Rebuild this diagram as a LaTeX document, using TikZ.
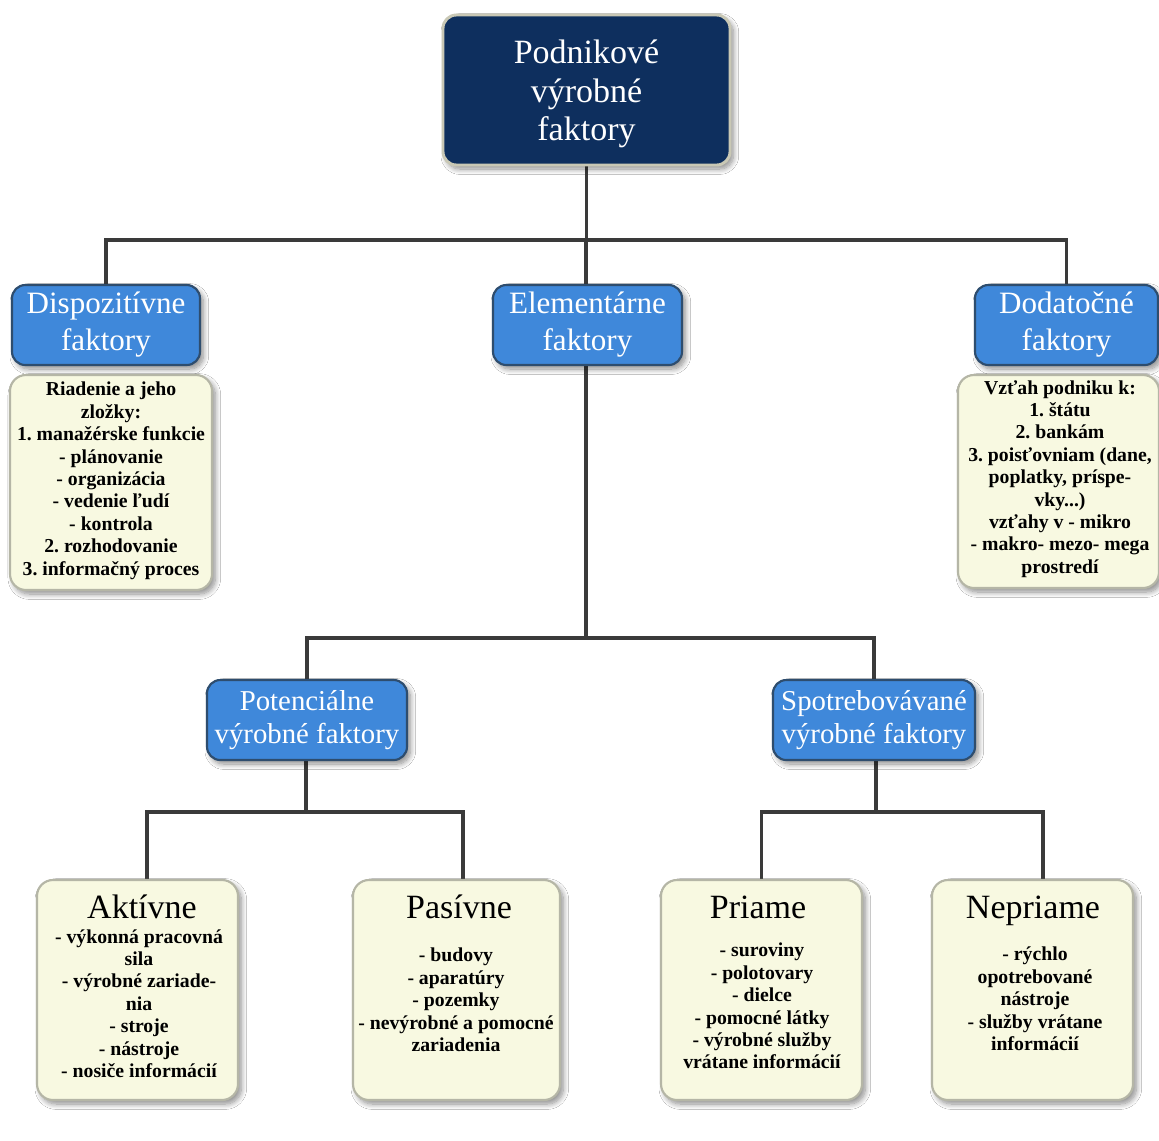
\documentclass[tikz,border=0pt]{standalone}
\usepackage{fontspec}
\setmainfont{Liberation Serif}
\usetikzlibrary{calc,backgrounds,shadows.blur}
\definecolor{navy}{HTML}{0E2F5E}
\definecolor{navyedge}{HTML}{C9C8B5}
\definecolor{bluefill}{HTML}{3F88DA}
\definecolor{blueedge}{HTML}{2E4D6E}
\definecolor{yfill}{HTML}{F8F9E1}
\definecolor{yedge}{HTML}{B5B6A6}
\definecolor{linec}{HTML}{3A3A3A}
\frenchspacing
\tikzset{
  shad/.style={blur shadow={shadow xshift=2.5pt,shadow yshift=-3pt,shadow blur steps=10,shadow blur radius=4pt,shadow opacity=45}},
  titlebox/.style={shad,draw=navyedge,line width=2.2pt,fill=navy,rounded corners=10pt,inner sep=0pt},
  titletext/.style={text=white,align=center,inner sep=0pt,font=\fontsize{25.5pt}{29pt}\selectfont},
  bluebox/.style={shad,draw=blueedge,line width=1.6pt,fill=bluefill,rounded corners=10pt,text=white,align=center,inner sep=0pt,
    minimum height=80*0.75pt},
  bigblue/.style={bluebox,font=\fontsize{23.3pt}{27.7pt}\selectfont},
  smallblue/.style={bluebox,font=\fontsize{21.6pt}{24.8pt}\selectfont},
  ybox/.style={shad,draw=yedge,line width=1.6pt,fill=yfill,rounded corners=12pt,inner sep=0pt},
  body/.style={align=center,inner sep=0pt,anchor=north,font=\fontsize{14.8pt}{16.8pt}\selectfont\bfseries},
  head/.style={inner sep=0pt,anchor=base,font=\fontsize{25.5pt}{29pt}\selectfont},
  conn/.style={draw=linec,line width=2.6pt}
}
\begin{document}
\begin{tikzpicture}[x=0.75pt,y=-0.75pt]
\useasboundingbox (0,0) rectangle (1159,1140);

% level 0
\node[titlebox,minimum width=287*0.75pt,minimum height=150*0.75pt] (top) at (586.5,90) {};
\node[titletext] (toptext) at (586.5,94) {Podnikové\\výrobné\\faktory};

% level 1
\node[bigblue,minimum width=188*0.75pt] (disp) at (106,325) {Dispozitívne\\faktory};
\node[bigblue,minimum width=189*0.75pt] (elem) at (587.5,325) {Elementárne\\faktory};
\node[bigblue,minimum width=183*0.75pt] (dod) at (1066.5,325) {Dodatočné\\faktory};

% yellow text boxes level 1
\node[ybox,minimum width=202*0.75pt,minimum height=215*0.75pt] (dispb) at (111,482.5) {};
\node[body] (dispt) at (111,382) {Riadenie a jeho\\zložky:\\1. manažérske funkcie\\- plánovanie\\- organizácia\\- vedenie ľudí\\- kontrola\\2. rozhodovanie\\3. informačný proces};
\node[ybox,minimum width=201*0.75pt,minimum height=213*0.75pt] (dodb) at (1058.5,481.5) {};
\node[body] (dodt) at (1060,380) {Vzťah podniku k:\\1. štátu\\2. bankám\\3. poisťovniam (dane,\\poplatky, príspe-\\vky...)\\vzťahy v - mikro\\- makro- mezo- mega\\prostredí};

% level 2
\node[smallblue,minimum width=200*0.75pt] (pot) at (307,720) {Potenciálne\\výrobné faktory};
\node[smallblue,minimum width=202*0.75pt] (spot) at (874,720) {Spotrebovávané\\výrobné faktory};

% level 3
\node[ybox,minimum width=201*0.75pt,minimum height=220*0.75pt] (akt) at (137.5,990) {};
\node[ybox,minimum width=207*0.75pt,minimum height=220*0.75pt] (pas) at (456.5,990) {};
\node[ybox,minimum width=201*0.75pt,minimum height=220*0.75pt] (pri) at (761.5,990) {};
\node[ybox,minimum width=201*0.75pt,minimum height=220*0.75pt] (nep) at (1032.5,990) {};

\node[head] (akth) at (142,918) {Aktívne};
\node[head] (pash) at (459,918) {Pasívne};
\node[head] (prih) at (758,918) {Priame};
\node[head] (neph) at (1033,918) {Nepriame};

\node[body] (aktt) at (139,929) {- výkonná pracovná\\sila\\- výrobné zariade-\\nia\\- stroje\\- nástroje\\- nosiče informácií};
\node[body] (past) at (456,948) {- budovy\\- aparatúry\\- pozemky\\- nevýrobné a pomocné\\zariadenia};
\node[body] (prit) at (762,943) {- suroviny\\- polotovary\\- dielce\\- pomocné látky\\- výrobné služby\\vrátane informácií};
\node[body] (nept) at (1035,947) {- rýchlo\\opotrebované\\nástroje\\- služby vrátane\\informácií};

% connectors
\coordinate (j1) at (586,240);
\coordinate (j2) at (586,638);
\coordinate (j3) at (306,812);
\coordinate (j4) at (876,812);
\begin{scope}[on background layer]
\fill[white] (0,0) rectangle (1159,1140);
\draw[conn] (top.south) -- (top.south |- j1);
\draw[conn] (disp.north) |- (j1) -| (dod.north);
\draw[conn] (j1) -- (j1 |- elem.north);
\draw[conn] (j1 |- elem.south) -- (j2);
\draw[conn] (pot.north) |- (j2) -| (spot.north);
\draw[conn] (j3 |- pot.south) -- (j3);
\draw[conn] ([xshift=7.1pt]akt.north) |- (j3) -| ([xshift=4.9pt]pas.north);
\draw[conn] (j4 |- spot.south) -- (j4);
\draw[conn] (pri.north) |- (j4) -| ([xshift=7.9pt]nep.north);
\end{scope}
\end{tikzpicture}
\end{document}
